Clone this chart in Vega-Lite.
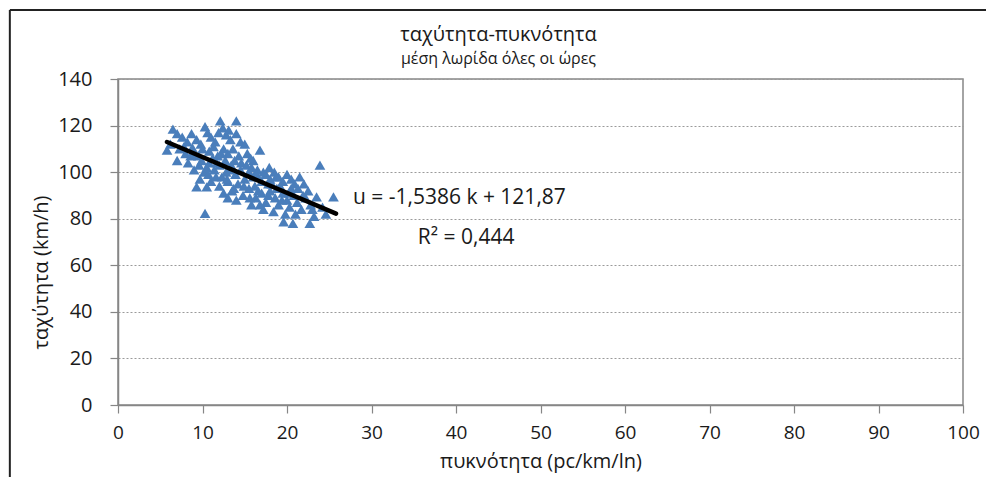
{
  "$schema": "https://vega.github.io/schema/vega-lite/v6.json",
  "width": 845,
  "height": 326,
  "autosize": {"type": "none"},
  "padding": {"left": 118, "top": 79, "right": 23, "bottom": 72},
  "background": "white",
  "title": {
    "text": "ταχύτητα-πυκνότητα",
    "subtitle": "μέση λωρίδα όλες οι ώρες",
    "anchor": "middle",
    "frame": "group",
    "dx": -42,
    "offset": -58,
    "font": "Open Sans",
    "fontSize": 20,
    "fontWeight": "normal",
    "color": "#1a1a1a",
    "subtitleFont": "Open Sans",
    "subtitleFontSize": 16,
    "subtitleColor": "#1a1a1a",
    "subtitlePadding": 6
  },
  "config": {
    "view": {"stroke": "#868686", "strokeWidth": 1.5},
    "axis": {
      "labelFont": "Open Sans",
      "labelFontSize": 20,
      "labelColor": "#1a1a1a",
      "titleFont": "Open Sans",
      "titleFontSize": 20,
      "titleFontWeight": "normal",
      "titleColor": "#1a1a1a",
      "domainColor": "#868686",
      "domainWidth": 1.5,
      "tickColor": "#868686",
      "tickWidth": 1.2,
      "tickSize": 8
    }
  },
  "layer": [
    {
      "data": {
        "values": [
          {"k": 6.5, "u": 118.5}, {"k": 7.0, "u": 116.5}, {"k": 7.6, "u": 115}, {"k": 8.2, "u": 113},
          {"k": 8.7, "u": 116.5}, {"k": 9.3, "u": 114}, {"k": 9.8, "u": 112}, {"k": 10.3, "u": 119.5},
          {"k": 10.6, "u": 117}, {"k": 11.0, "u": 115}, {"k": 11.5, "u": 113}, {"k": 12.1, "u": 122},
          {"k": 12.4, "u": 119}, {"k": 12.8, "u": 116}, {"k": 13.3, "u": 114}, {"k": 14.0, "u": 122},
          {"k": 14.0, "u": 116.5}, {"k": 14.5, "u": 113}, {"k": 15.0, "u": 112}, {"k": 16.8, "u": 109.5},
          {"k": 5.8, "u": 109.5}, {"k": 6.2, "u": 112}, {"k": 7.3, "u": 110}, {"k": 8.0, "u": 108},
          {"k": 8.8, "u": 110.5}, {"k": 9.5, "u": 107}, {"k": 10.0, "u": 110}, {"k": 10.8, "u": 109},
          {"k": 11.3, "u": 111}, {"k": 11.8, "u": 107}, {"k": 12.5, "u": 110}, {"k": 13.0, "u": 108},
          {"k": 13.6, "u": 110}, {"k": 14.3, "u": 107}, {"k": 15.3, "u": 108}, {"k": 16.0, "u": 105},
          {"k": 7.0, "u": 105}, {"k": 8.3, "u": 104}, {"k": 9.0, "u": 101}, {"k": 9.6, "u": 103},
          {"k": 10.2, "u": 100}, {"k": 10.8, "u": 104}, {"k": 11.4, "u": 101}, {"k": 12.0, "u": 103},
          {"k": 12.3, "u": 98}, {"k": 12.8, "u": 100}, {"k": 13.4, "u": 103}, {"k": 13.9, "u": 99},
          {"k": 14.5, "u": 101}, {"k": 15.0, "u": 97}, {"k": 15.5, "u": 100}, {"k": 16.0, "u": 98},
          {"k": 16.5, "u": 101}, {"k": 17.0, "u": 96}, {"k": 17.5, "u": 99}, {"k": 18.0, "u": 97},
          {"k": 18.5, "u": 100}, {"k": 19.0, "u": 98}, {"k": 19.5, "u": 96}, {"k": 20.0, "u": 99},
          {"k": 20.5, "u": 97}, {"k": 21.5, "u": 98}, {"k": 22.0, "u": 95}, {"k": 23.9, "u": 103},
          {"k": 11.0, "u": 96}, {"k": 12.0, "u": 94}, {"k": 13.0, "u": 96}, {"k": 14.2, "u": 95},
          {"k": 16.2, "u": 94}, {"k": 18.2, "u": 95},
          {"k": 9.3, "u": 93.7}, {"k": 10.5, "u": 93.7}, {"k": 10.3, "u": 82.3}, {"k": 12.5, "u": 91},
          {"k": 13.5, "u": 92}, {"k": 14.8, "u": 90}, {"k": 15.5, "u": 93}, {"k": 16.3, "u": 89},
          {"k": 17.0, "u": 91}, {"k": 17.5, "u": 87}, {"k": 18.0, "u": 92}, {"k": 18.6, "u": 89},
          {"k": 19.0, "u": 86}, {"k": 19.5, "u": 91}, {"k": 20.0, "u": 88}, {"k": 20.3, "u": 85},
          {"k": 20.8, "u": 90}, {"k": 21.2, "u": 87}, {"k": 21.7, "u": 84}, {"k": 22.2, "u": 89},
          {"k": 22.8, "u": 86}, {"k": 23.5, "u": 89.4}, {"k": 25.5, "u": 89.4}, {"k": 24.2, "u": 85},
          {"k": 19.6, "u": 78.7}, {"k": 20.7, "u": 78}, {"k": 22.7, "u": 78}, {"k": 17.2, "u": 84},
          {"k": 18.4, "u": 83}, {"k": 19.8, "u": 82}, {"k": 21.0, "u": 82}, {"k": 23.2, "u": 81},
          {"k": 15.8, "u": 86}, {"k": 14.0, "u": 88}, {"k": 16.8, "u": 86}, {"k": 22.5, "u": 92},
          {"k": 20.5, "u": 93}, {"k": 19.2, "u": 94}, {"k": 17.8, "u": 90}, {"k": 13.0, "u": 89},
          {"k": 9.0, "u": 108}, {"k": 9.9, "u": 105}, {"k": 10.5, "u": 102}, {"k": 11.2, "u": 106},
          {"k": 11.7, "u": 104}, {"k": 12.2, "u": 108}, {"k": 12.7, "u": 105}, {"k": 13.2, "u": 101},
          {"k": 13.8, "u": 105}, {"k": 14.6, "u": 104}, {"k": 15.2, "u": 103}, {"k": 15.8, "u": 102},
          {"k": 16.4, "u": 99}, {"k": 17.2, "u": 100}, {"k": 17.8, "u": 95}, {"k": 18.8, "u": 93},
          {"k": 19.4, "u": 88}, {"k": 20.2, "u": 91}, {"k": 21.3, "u": 93}, {"k": 21.9, "u": 90},
          {"k": 14.9, "u": 94}, {"k": 15.6, "u": 89}, {"k": 16.6, "u": 92}, {"k": 13.7, "u": 93},
          {"k": 12.9, "u": 97}, {"k": 11.6, "u": 98}, {"k": 10.7, "u": 99}, {"k": 9.7, "u": 97},
          {"k": 8.6, "u": 107}, {"k": 7.8, "u": 111}, {"k": 11.9, "u": 117}, {"k": 13.1, "u": 118},
          {"k": 15.7, "u": 106}, {"k": 17.9, "u": 102}, {"k": 18.7, "u": 98}, {"k": 20.9, "u": 95},
          {"k": 23.0, "u": 84}, {"k": 24.6, "u": 82}
        ]
      },
      "mark": {"type": "point", "shape": "triangle-up", "filled": true, "size": 115, "color": "#4a7ebb", "opacity": 1},
      "encoding": {
        "x": {
          "field": "k", "type": "quantitative",
          "scale": {"domain": [0, 100], "nice": false},
          "axis": {
            "title": "πυκνότητα (pc/km/ln)",
            "values": [0, 10, 20, 30, 40, 50, 60, 70, 80, 90, 100],
            "grid": false,
            "labelFontSize": 19,
            "labelPadding": 10,
            "titlePadding": 9,
            "labelFlush": false
          }
        },
        "y": {
          "field": "u", "type": "quantitative",
          "scale": {"domain": [0, 140], "nice": false},
          "axis": {
            "title": "ταχύτητα (km/h)",
            "values": [0, 20, 40, 60, 80, 100, 120, 140],
            "grid": true,
            "gridColor": "#9a9a9a",
            "gridDash": [2, 2],
            "gridWidth": 1,
            "labelPadding": 18,
            "titlePadding": 6,
            "titleY": 193,
            "labelFlush": false
          }
        }
      }
    },
    {
      "data": {"values": [{"k": 5.8, "u": 112.95}, {"k": 25.8, "u": 82.17}]},
      "mark": {"type": "line", "color": "black", "strokeWidth": 4.5, "strokeCap": "round"},
      "encoding": {
        "x": {"field": "k", "type": "quantitative"},
        "y": {"field": "u", "type": "quantitative"}
      }
    },
    {
      "data": {"values": [
        {"k": 40.4, "u": 88.9, "label": "u = -1,5386 k + 121,87"},
        {"k": 41.2, "u": 71.7, "label": "R² = 0,444"}
      ]},
      "mark": {"type": "text", "font": "Open Sans", "fontSize": 21, "color": "#1a1a1a", "align": "center", "baseline": "middle"},
      "encoding": {
        "x": {"field": "k", "type": "quantitative"},
        "y": {"field": "u", "type": "quantitative"},
        "text": {"field": "label"}
      }
    },
    {
      "data": {"values": [{"edge": "top"}]},
      "mark": {"type": "rule", "color": "#222222", "strokeWidth": 2},
      "encoding": {
        "x": {"datum": -12.8},
        "x2": {"datum": 102.8},
        "y": {"datum": 169.6}
      }
    },
    {
      "data": {"values": [{"edge": "left"}]},
      "mark": {"type": "rule", "color": "#222222", "strokeWidth": 2},
      "encoding": {
        "x": {"datum": -12.8},
        "y": {"datum": 169.6},
        "y2": {"datum": -31}
      }
    }
  ]
}
